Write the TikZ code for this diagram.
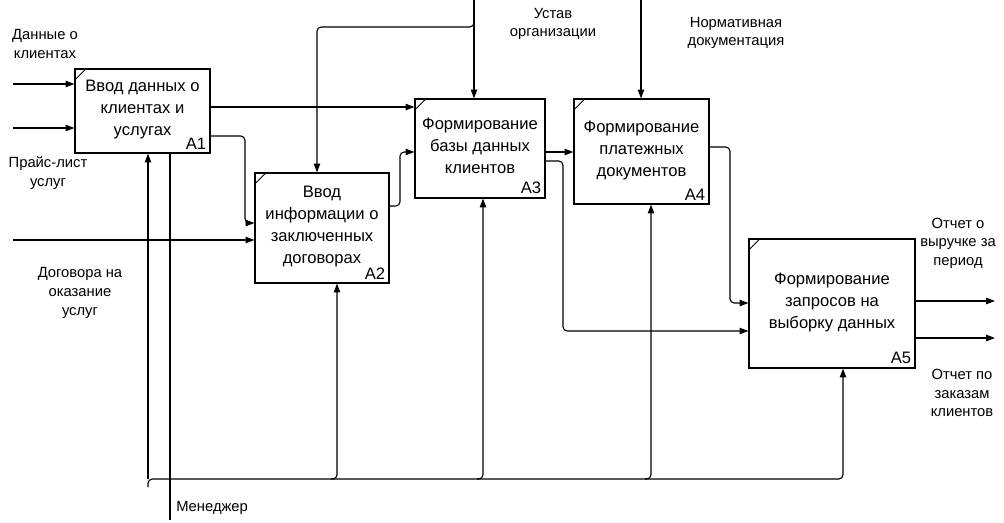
\documentclass[tikz,border=0pt]{standalone}
\usepackage{fontspec}
\setmainfont{Liberation Sans}
\usetikzlibrary{arrows.meta,calc,positioning}

\begin{document}
\begin{tikzpicture}[x=0.025cm, y=-0.025cm,
      func/.style={rectangle, draw=black, line width=0.8pt, align=center, inner sep=2pt, text depth=4.5pt, font=\fontsize{11.8}{15.6}\selectfont,
        path picture={\draw[line width=0.6pt] ([yshift=-0.27cm]path picture bounding box.north west) -- ++(0.27cm,0.27cm);}},
      num/.style={anchor=south east, inner sep=3pt, font=\fontsize{11.8}{14}\selectfont},
      lbl/.style={align=center, inner sep=0pt, font=\fontsize{10.5}{13.2}\selectfont},
      flow/.style={-{Triangle[length=2.2mm,width=1.6mm]}, line width=0.8pt, rounded corners=3pt},
      link/.style={line width=0.8pt, rounded corners=3pt}
    ]
      \useasboundingbox (0,0) rectangle (1004,522);

      % functions
      \node[func, minimum width=3.375cm, minimum height=2.1cm] (A1) at (142.5,111) {Ввод данных о\\клиентах и\\услугах};
      \node[func, minimum width=3.35cm, minimum height=2.75cm] (A2) at (322,228) {Ввод\\информации о\\заключенных\\договорах};
      \node[func, minimum width=3.25cm, minimum height=2.475cm] (A3) at (480,148.5) {Формирование\\базы данных\\клиентов};
      \node[func, minimum width=3.375cm, minimum height=2.625cm] (A4) at (641.5,151.5) {Формирование\\платежных\\документов};
      \node[func, minimum width=4.15cm, minimum height=3.225cm] (A5) at (832,303.5) {Формирование\\запросов на\\выборку данных};
      \foreach \f in {A1,A2,A3,A4,A5}
        \node[num] at (\f.south east) {\f};

      % inputs
      \coordinate (in1) at (13,84);
      \coordinate (in2) at (13,128);
      \coordinate (in3) at (13,240);
      \draw[flow] (in1) -- (in1 -| A1.west);
      \draw[flow] (in2) -- (in2 -| A1.west);
      \draw[flow] (in3) -- (in3 -| A2.west);
      \node[lbl] (dataC) at (45,44) {Данные о\\клиентах};
      \node[lbl] (price) at (48,173) {Прайс-лист\\услуг};
      \node[lbl] (contr) at (80,293) {Договора на\\оказание\\услуг};

      % links between functions
      \draw[flow] (A1.east |- 0,107) -- (A3.west |- 0,107);
      \draw[flow] (A1.east |- 0,136) -| (245,180) |- (A2.west |- 0,223);
      \draw[flow] (A2.east |- 0,206) -| (400,180) |- (A3.west |- 0,152);
      \draw[flow] (A3.east |- 0,152) -- (A4.west |- 0,152);
      \draw[flow] (A3.east |- 0,161) -| (563,250) |- (A5.west |- 0,331);
      \draw[flow] (A4.east |- 0,147) -| (730,250) |- (A5.west |- 0,303);

      % controls
      \coordinate (ctl1) at (474,0);
      \coordinate (ctl2) at (641,0);
      \draw[flow] (ctl1) -- (ctl1 |- A3.north);
      \draw[flow] (ctl1 |- 0,20) |- (317,27) -- (A2.north -| 317,0);
      \draw[flow] (ctl2) -- (ctl2 |- A4.north);
      \node[lbl] (charter) at (553,24) {Устав\\организации};
      \node[lbl] (norms) at (736,33) {Нормативная\\документация};

      % outputs
      \coordinate (out1) at (995,301);
      \coordinate (out2) at (995,338);
      \draw[flow] (A5.east |- out1) -- (out1);
      \draw[flow] (A5.east |- out2) -- (out2);
      \node[lbl] (rep1) at (958,243) {Отчет о\\выручке за\\период};
      \node[lbl] (rep2) at (962,393) {Отчет по\\заказам\\клиентов};

      % mechanism
      \coordinate (mech) at (170,520);
      \draw[link] (A1.south -| mech) -- (mech);
      \draw[flow] (148,479) -- (A1.south -| 148,0);
      \draw[flow] (148,487) |- (843,479) -- (A5.south -| 843,0);
      \foreach \x/\f in {337/A2,483/A3,651/A4}
        \draw[flow] (\x-6,479) -| (\f.south -| \x,0);
      \node[lbl, anchor=west] (manager) at (176,508) {Менеджер};
    \end{tikzpicture}
\end{document}
